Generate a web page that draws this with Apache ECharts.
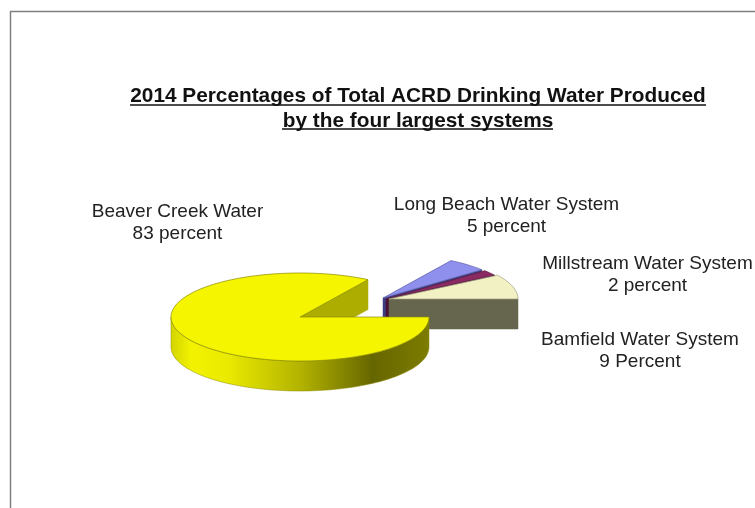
<!DOCTYPE html>
<html>
<head>
<meta charset="utf-8">
<style>html,body{margin:0;padding:0;background:#fff}#c{width:755px;height:508px}</style>
<script src="https://cdn.jsdelivr.net/npm/echarts@6/dist/echarts.min.js"></script>
</head>
<body>
<div id="c"></div>
<script>
const titleLines = ['2014 Percentages of Total ACRD Drinking Water Produced', 'by the four largest systems'];
const systems = ['Beaver Creek Water', 'Long Beach Water System', 'Millstream Water System', 'Bamfield Water System'];
const shares = [83, 5, 2, 9];
const shareTexts = ['83 percent', '5 percent', '2 percent', '9 Percent'];

// styles and layout
const topColors = ['#f5f500', '#8f8fee', '#8b2a62', '#f1f1c4'];
const edgeColors = ['#8a8a00', '#5f5fa8', '#5a1a40', '#a0a080'];
const cutColors = ['#adad00', '#3d3d80', '#4a1534', '#66664f'];
const origins = [[300, 317], [383, 298], [386, 299], [389, 299]];
const labelCenters = [[177.5, 223], [506.5, 216], [647.5, 275], [640, 351]];
const RX = 129, RY = 44, DEPTH = 30, STEP = 2;
const total = shares.reduce((a, b) => a + b, 0);

let running = 0;
const rows = shares.map((v) => { const r = [v, running]; running += v; return r; });

function arcPoints(o, a0, a1) {
  const pts = [];
  const n = Math.max(2, Math.ceil(Math.abs(a1 - a0) / STEP));
  for (let i = 0; i <= n; i++) {
    const a = (a0 + (a1 - a0) * i / n) * Math.PI / 180;
    pts.push([o[0] + RX * Math.cos(a), o[1] + RY * Math.sin(a)]);
  }
  return pts;
}
function renderSlice(params, api) {
  const i = params.dataIndex;
  const o = origins[i];
  const a0 = api.value(1) / total * 360;
  const a1 = a0 + api.value(0) / total * 360;
  const children = [];
  const down = (p) => [p[0], p[1] + DEPTH];
  const end = arcPoints(o, a1, a1 + 0.01)[0];
  // cut face at the clockwise end of the slice
  children.push({
    type: 'polygon', z2: 1,
    shape: { points: [o, end, down(end), down(o)] },
    style: { fill: cutColors[i], stroke: cutColors[i], lineWidth: 0.5 }
  });
  // outer wall, front half only
  const w0 = Math.max(a0, 0), w1 = Math.min(a1, 180);
  if (w1 > w0) {
    const arc = arcPoints(o, w0, w1);
    children.push({
      type: 'polygon', z2: 2,
      shape: { points: arc.concat(arc.map(down).reverse()) },
      style: {
        fill: new echarts.graphic.LinearGradient(0, 0, 1, 0, [
          { offset: 0, color: '#d4d400' },
          { offset: 0.08, color: '#f2f200' },
          { offset: 0.22, color: '#eaea00' },
          { offset: 0.5, color: '#b3b300' },
          { offset: 0.78, color: '#666600' },
          { offset: 1, color: '#7c7c00' }
        ]),
        stroke: '#8a8a00', lineWidth: 0.5
      }
    });
  }
  // top surface
  children.push({
    type: 'polygon', z2: 3,
    shape: { points: [o].concat(arcPoints(o, a0, a1)) },
    style: { fill: topColors[i], stroke: edgeColors[i], lineWidth: 0.7 }
  });
  return { type: 'group', z2: i === 0 ? 10 : i, children };
}

const chart = echarts.init(document.getElementById('c'), null, { renderer: 'canvas' });
const FONT = '"Liberation Sans", Arial, sans-serif';
const graphics = [
  { type: 'polyline', shape: { points: [[10.5, 508], [10.5, 11.5], [755, 11.5]] }, style: { stroke: '#808080', lineWidth: 1.5, fill: null } },
  { type: 'line', shape: { x1: 130, y1: 105, x2: 706, y2: 105 }, style: { stroke: '#111', lineWidth: 1.6 } },
  { type: 'line', shape: { x1: 282, y1: 129, x2: 553, y2: 129 }, style: { stroke: '#111', lineWidth: 1.6 } }
];
systems.forEach((name, i) => {
  graphics.push({
    type: 'text', x: labelCenters[i][0], y: labelCenters[i][1],
    style: {
      text: name + '\n' + shareTexts[i], font: '19px ' + FONT, lineHeight: 22,
      fill: '#222', align: 'center', verticalAlign: 'middle'
    }
  });
});
chart.setOption({
  animation: false,
  backgroundColor: '#fff',
  title: {
    text: titleLines.join('\n'), left: 413, top: 79, textAlign: 'center',
    textStyle: { fontFamily: FONT, fontSize: 20.8, fontWeight: 'bold', color: '#111', lineHeight: 25 }
  },
  series: [{
    type: 'custom', coordinateSystem: 'none', renderItem: renderSlice,
    data: rows, silent: true
  }],
  graphic: graphics
});
</script>
</body>
</html>
